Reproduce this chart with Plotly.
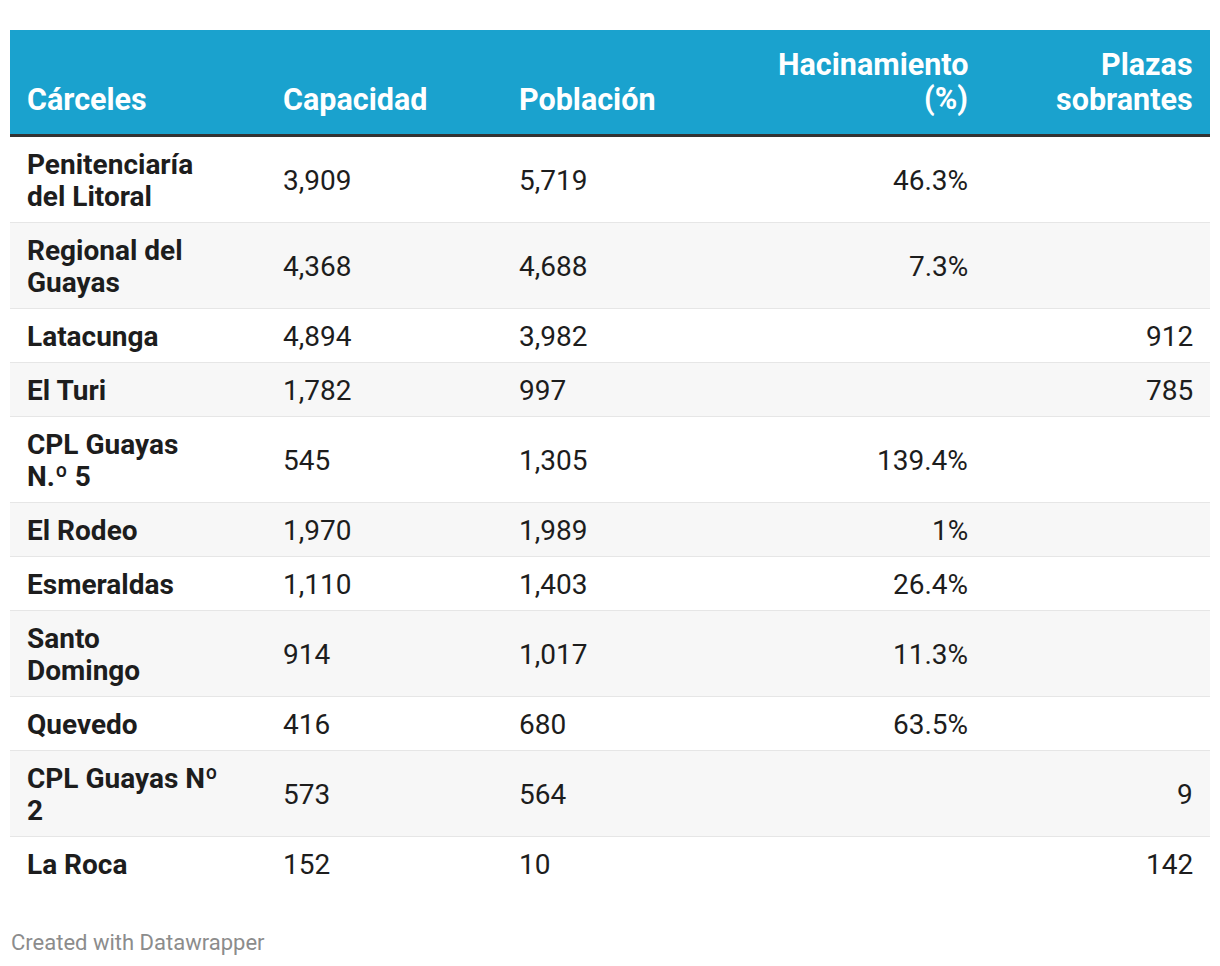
import plotly.graph_objects as go

# table data
carceles = ["Penitenciaría<br>del Litoral", "Regional del<br>Guayas", "Latacunga", "El Turi",
            "CPL Guayas<br>N.º 5", "El Rodeo", "Esmeraldas", "Santo<br>Domingo", "Quevedo",
            "CPL Guayas Nº<br>2", "La Roca"]
capacidad = [3909, 4368, 4894, 1782, 545, 1970, 1110, 914, 416, 573, 152]
poblacion = [5719, 4688, 3982, 997, 1305, 1989, 1403, 1017, 680, 564, 10]
hacinamiento = [46.3, 7.3, None, None, 139.4, 1, 26.4, 11.3, 63.5, None, None]
plazas_sobrantes = [None, None, 912, 785, None, None, None, None, None, 9, 142]
headers = ["Cárceles", "Capacidad", "Población", "Hacinamiento<br>(%)", "Plazas<br>sobrantes"]

W, H = 1220, 966
OFF = 8  # default body margin of the html page
FONT = "Roboto, Arial, sans-serif"
BLUE = "#1aa2ce"
TEXT = "#1d1d1d"

# column anchors: (x, xanchor)
cols = [(27, "left"), (283, "left"), (519, "left"), (968, "right"), (1193, "right")]
left, right = 10, 1210
head_top, head_bot = 30, 134
line_h = 32
pad = 11

def fmt_int(v):
    return "" if v is None else f"{v:,}"

def fmt_pct(v):
    return "" if v is None else f"{v:g}%"

body = [
    carceles,
    [fmt_int(v) for v in capacidad],
    [fmt_int(v) for v in poblacion],
    [fmt_pct(v) for v in hacinamiento],
    [fmt_int(v) for v in plazas_sobrantes],
]

shapes = []
annotations = []

def add_lines(text, x, xanchor, yc, size, color, bold, spacing):
    lines = text.split("<br>")
    n = len(lines)
    for i, ln in enumerate(lines):
        y = yc + (i - (n - 1) / 2) * spacing
        annotations.append(dict(
            x=x, y=y, xref="x", yref="y", text=f"<b>{ln}</b>" if bold else ln,
            xanchor=xanchor, yanchor="middle", showarrow=False,
            borderpad=0, borderwidth=0,
            font=dict(family=FONT, size=size, color=color),
        ))

def band(y0, y1, color):
    shapes.append(dict(type="rect", xref="x", yref="y", x0=left, x1=right, y0=y0, y1=y1,
                       fillcolor=color, line=dict(width=0), layer="below"))

# header
band(head_top, head_bot, BLUE)
band(head_bot, head_bot + 3.5, "#333333")
for h, (x, xa) in zip(headers, cols):
    n = len(h.split("<br>"))
    yc = 99 - (n - 1) * 35 / 2
    add_lines(h, x, xa, yc, 30.5, "white", True, 35)

# body rows
y = head_bot + 3
for r in range(len(carceles)):
    n = max(len(body[c][r].split("<br>")) for c in range(len(cols)))
    h = 2 * pad + n * line_h
    band(y, y + h, "#ffffff" if r % 2 == 0 else "#f7f7f7")
    if r < len(carceles) - 1:
        band(y + h - 1, y + h + 1, "#e6e6e6")
    yc = y + h / 2
    for c, (x, xa) in enumerate(cols):
        add_lines(body[c][r], x, xa, yc, 28, TEXT, c == 0, line_h)
    y += h

# footer
annotations.append(dict(x=10, y=942, xref="x", yref="y", text="Created with Datawrapper",
                        xanchor="left", yanchor="middle", showarrow=False, borderpad=0,
                        font=dict(family=FONT, size=22, color="#8c8c8c")))

fig = go.Figure()
fig.update_layout(
    width=W, height=H,
    margin=dict(l=0, r=0, t=0, b=0),
    paper_bgcolor="white", plot_bgcolor="white",
    xaxis=dict(range=[OFF, W + OFF], visible=False, fixedrange=True),
    yaxis=dict(range=[H + OFF, OFF], visible=False, fixedrange=True),
    shapes=shapes, annotations=annotations,
    showlegend=False,
)

fig.write_html("out.html")
